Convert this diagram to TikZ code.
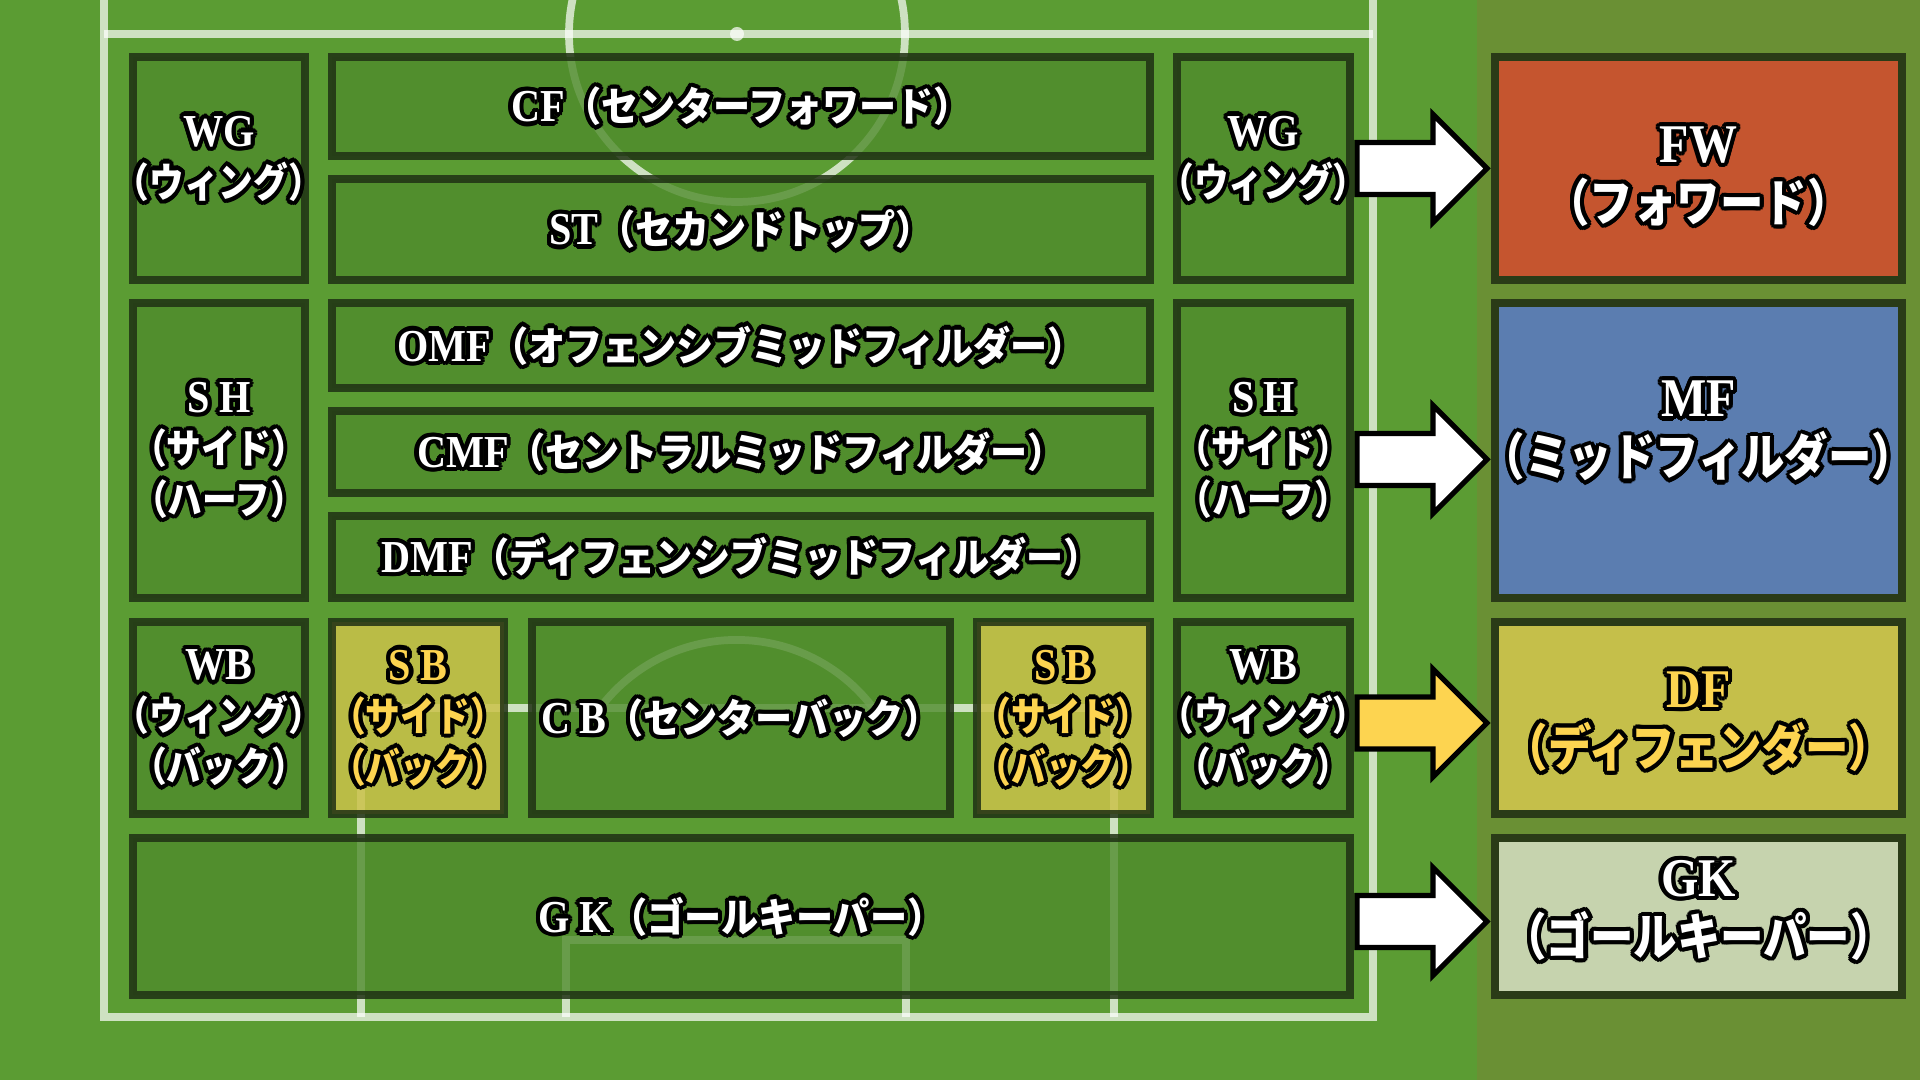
\documentclass[tikz,border=0pt]{standalone}
\usepackage{fontspec}
\setmainfont{Liberation Serif}[FakeStretch=0.88]
\newfontfamily\jp{Noto Sans CJK JP}[Scale=0.883,FakeStretch=0.92]
\newfontfamily\jpn{Noto Sans CJK JP}[Scale=0.883,FakeStretch=0.86]
\newfontfamily\jpw{Noto Sans CJK JP}[Scale=0.926,FakeStretch=0.86]
\usepackage{tikz}
\usetikzlibrary{calc,fit}
\usepackage{xcolor}
\definecolor{grass}{HTML}{5B9C33}
\definecolor{panel}{HTML}{6A9034}
\definecolor{zonefill}{HTML}{4F8B2C}
\definecolor{zoneline}{HTML}{1F3014}
\definecolor{sbfill}{HTML}{CBC24A}
\definecolor{fwred}{HTML}{C5552F}
\definecolor{mfblue}{HTML}{5B7DB0}
\definecolor{dfolive}{HTML}{C5BF4A}
\definecolor{gkpale}{HTML}{C6D3AE}
\definecolor{catline}{HTML}{2A3B17}
\definecolor{labelgold}{HTML}{FDD450}
\tikzset{
  zone/.style={draw=zoneline, draw opacity=0.85, line width=2pt, fill=zonefill, fill opacity=0.8, inner sep=0pt, outer sep=0pt},
  sbzone/.style={zone, fill=sbfill, fill opacity=0.85},
  cat/.style={draw=catline, line width=2.3pt, inner sep=0pt, outer sep=0pt},
  pitch/.style={draw=white, draw opacity=0.7, line width=2.2pt},
  lbl/.style={font=\bfseries\fontsize{13}{14.5}\selectfont, align=center, inner sep=0pt},
  biglbl/.style={font=\bfseries\fontsize{15.5}{16.8}\selectfont},
  blockarrow/.style={draw=black, line width=1.5pt, line join=miter}
}
% outlined label: [options]{zone}{colour}{text}
\newcommand\olabel[4][]{%
  \foreach \ang in {0,22.5,...,337.5}
    \node[lbl, #1, text=black, shift={(\ang:1.2pt)}] at (#2.center) {#4};
  \node[lbl, #1, text=#3] (#2-txt) at (#2.center) {#4};
}

\begin{document}
\begin{tikzpicture}[x=0.01cm, y=-0.01cm]
\useasboundingbox (0,0) rectangle (1920,1080);
% grass and pitch markings
\fill[grass] (0,0) rectangle (1477,1080);
\draw[pitch] (104,0) -- (104,1017) -- (1373,1017) -- (1373,0);
\draw[pitch] (104,34) -- (1373,34);
\draw[pitch] (737,34) circle[radius=168];
\fill[white, opacity=0.7] (737,34) circle[radius=7];
\draw[pitch] (361,1017) -- (361,708) -- (1114,708) -- (1114,1017);
\draw[pitch] (566,1017) -- (566,940) -- (906,940) -- (906,1017);
\draw[pitch] (600,708) arc[start angle=217, end angle=323, radius=171];

% position zones
\node[zone, fit={(133,57) (305,280)}] (wgL) {};
\node[zone, fit={(332,57) (1150,156)}] (cf) {};
\node[zone, fit={(332,179) (1150,280)}] (st) {};
\node[zone, fit={(1177,57) (1350,280)}] (wgR) {};
\node[zone, fit={(133,303) (305,598)}] (shL) {};
\node[zone, fit={(332,303) (1150,388)}] (omf) {};
\node[zone, fit={(332,411) (1150,493)}] (cmf) {};
\node[zone, fit={(332,516) (1150,598)}] (dmf) {};
\node[zone, fit={(1177,303) (1350,598)}] (shR) {};
\node[zone, fit={(133,622) (305,814)}] (wbL) {};
\node[sbzone, fit={(332,622) (504,814)}] (sbL) {};
\node[zone, fit={(532,622) (950,814)}] (cb) {};
\node[sbzone, fit={(977,622) (1150,814)}] (sbR) {};
\node[zone, fit={(1177,622) (1350,814)}] (wbR) {};
\node[zone, fit={(133,838) (1350,995)}] (gkzone) {};

% categories
\fill[panel] (1477,0) rectangle (1920,1080);
\node[cat, fill=fwred, fit={(1495,57) (1902,280)}] (fw) {};
\node[cat, fill=mfblue, fit={(1495,303) (1902,598)}] (mf) {};
\node[cat, fill=dfolive, fit={(1495,622) (1902,814)}] (df) {};
\node[cat, fill=gkpale, fit={(1495,838) (1902,995)}] (gk) {};

% arrows
\foreach \src/\dst/\col/\dy in {wgR/fw/white/0, shR/mf/white/9, wbR/df/labelgold/5, gkzone/gk/white/5}
  \draw[blockarrow, fill=\col] ($(\src.east)+(7,\dy-26)$) -- ($(\dst.west)+(-62,\dy-26)$)
    -- ($(\dst.west)+(-62,\dy-54)$) -- ($(\dst.west)+(-8,\dy)$) -- ($(\dst.west)+(-62,\dy+54)$)
    -- ($(\dst.west)+(-62,\dy+26)$) -- ($(\src.east)+(7,\dy+26)$) -- cycle;

% labels
\olabel[yshift=2.8pt]{wgL}{white}{WG\\{\jpn（ウィング）}}
\olabel{cf}{white}{CF{\jp（センターフォワード）}}
\olabel{st}{white}{ST{\jp（セカンドトップ）}}
\olabel[yshift=2.8pt]{wgR}{white}{WG\\{\jpn（ウィング）}}
\olabel{shL}{white}{S\kern.2em H\\{\jpn（サイド）}\\{\jpn（ハーフ）}}
\olabel{omf}{white}{OMF{\jp（オフェンシブミッドフィルダー）}}
\olabel{cmf}{white}{CMF{\jp（セントラルミッドフィルダー）}}
\olabel{dmf}{white}{DMF{\jp（ディフェンシブミッドフィルダー）}}
\olabel{shR}{white}{S\kern.2em H\\{\jpn（サイド）}\\{\jpn（ハーフ）}}
\olabel{wbL}{white}{WB\\{\jpn（ウィング）}\\{\jpn（バック）}}
\olabel{sbL}{labelgold}{S\kern.2em B\\{\jpn（サイド）}\\{\jpn（バック）}}
\olabel{cb}{white}{C\kern.2em B{\jp（センターバック）}}
\olabel{sbR}{labelgold}{S\kern.2em B\\{\jpn（サイド）}\\{\jpn（バック）}}
\olabel{wbR}{white}{WB\\{\jpn（ウィング）}\\{\jpn（バック）}}
\olabel{gkzone}{white}{G\kern.2em K{\jp（ゴールキーパー）}}
\olabel[biglbl, yshift=-2.3pt]{fw}{white}{FW\\{\jpw（フォワード）}}
\olabel[biglbl, yshift=5.5pt]{mf}{white}{MF\\{\jpw（ミッドフィルダー）}}
\olabel[biglbl, yshift=-1pt]{df}{labelgold}{DF\\{\jpw（ディフェンダー）}}
\olabel[biglbl, yshift=1.7pt]{gk}{white}{GK\\{\jpw（ゴールキーパー）}}
\end{tikzpicture}
\end{document}
